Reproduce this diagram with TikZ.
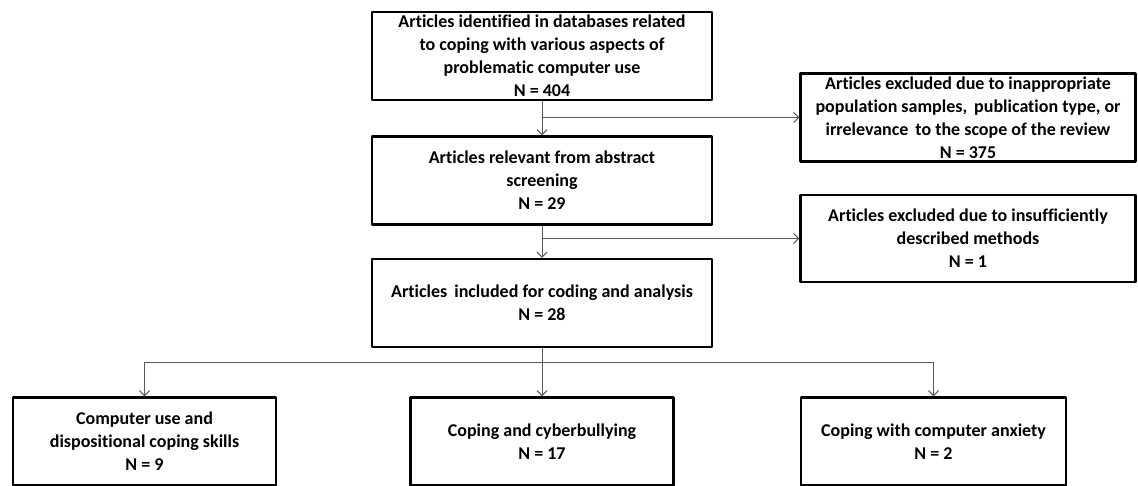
\documentclass[tikz,border=0pt]{standalone}
\usepackage{fontspec}
\setmainfont{Carlito}[Ligatures=NoCommon]
\usetikzlibrary{arrows.meta,calc}

\begin{document}
\begin{tikzpicture}[
    x=1pt, y=-1pt,
    >={Straight Barb[length=5pt,width=10pt]},
    line join=round,
    font=\fontsize{18}{23}\selectfont\bfseries,
    box/.style={draw=black, line width=2.4pt, align=center,
        inner sep=0pt, minimum height=88pt},
    link/.style={draw=black!65, line width=1pt}
]

% ======================================
% canvas
% ======================================
\useasboundingbox (0,0) rectangle (1138,486);

% ======================================
% main column
% ======================================
\def\colX{542}      % centre of the main column
\def\colW{340}      % width of the main boxes

\node[box, minimum width=\colW pt] (found) at (\colX,56)
    {Articles identified in databases related\\
     to coping with various aspects of\\
     problematic computer use\\
     N = 404};

\node[box, minimum width=\colW pt] (screened) at (\colX,180.5)
    {Articles relevant from abstract\\
     screening\\
     N = 29};

\node[box, minimum width=\colW pt] (included) at (\colX,303)
    {Articles\, included for coding and analysis\\
     N = 28};

% ======================================
% excluded boxes on the right
% ======================================
\node[box, minimum width=335pt] (excl1) at (968,117.5)
    {Articles excluded due to inappropriate\\
     population samples,\, publication type, or\\
     irrelevance\, to the scope of the review\\
     N = 375};

\node[box, minimum width=335pt, minimum height=87pt] (excl2) at (968,238.5)
    {Articles excluded due to insufficiently\\
     described methods\\
     N = 1};

% ======================================
% categories at the bottom
% ======================================
\node[box, minimum width=263pt] (dispo) at (144.5,441.5)
    {Computer use and\\
     dispositional coping skills\\
     N = 9};

\node[box, minimum width=263pt] (bully) at (\colX,441.5)
    {Coping and cyberbullying\\
     N = 17};

\node[box, minimum width=265pt] (anxiety) at (933.5,441.5)
    {Coping with computer anxiety\\
     N = 2};

% ======================================
% connectors
% ======================================
\draw[link, ->] (found.south) -- (screened.north);
\draw[link, ->] (excl1.west -| found.south) -- (excl1.west);

\draw[link, ->] (screened.south) -- (included.north);
\draw[link, ->] (excl2.west -| screened.south) -- (excl2.west);

% split line to the three categories
\coordinate (hub) at ($(included.south)+(0,14)$);
\draw[link] (included.south) -- (hub);
\draw[link] (dispo.north |- hub) -- (anxiety.north |- hub);
\draw[link, ->] (dispo.north |- hub) -- (dispo.north);
\draw[link, ->] (hub) -- (bully.north);
\draw[link, ->] (anxiety.north |- hub) -- (anxiety.north);

\end{tikzpicture}
\end{document}
